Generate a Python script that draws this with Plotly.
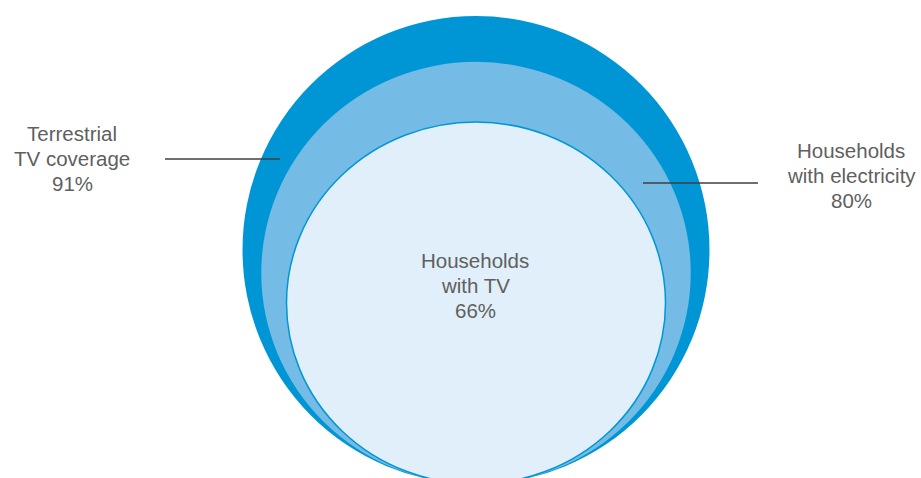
import plotly.graph_objects as go

# nested coverage circles
labels = ["Terrestrial<br>TV coverage", "Households<br>with electricity", "Households<br>with TV"]
values = [91, 80, 66]  # percent

fills = ["#0096D6", "#74BBE6", "#E1EFFA"]
outlines = [None, None, "#0096D6"]

W, H = 921, 478
cx, bottom = 476, 484
R = 234  # outer radius in px

fig = go.Figure()

# circles all sit on the same baseline, sized from the values
vmax = max(values)
for i, v in enumerate(values):
    rx = (R - 0.5) * (v / vmax) ** 0.65
    ry = R * (v / vmax) ** 0.8
    line = dict(width=0) if outlines[i] is None else dict(color=outlines[i], width=1.5)
    fig.add_shape(
        type="circle", xref="x", yref="y",
        x0=cx - rx, x1=cx + rx, y0=bottom - 2 * ry, y1=bottom,
        fillcolor=fills[i], line=line, layer="below",
    )

# leader lines
fig.add_shape(type="line", x0=165, x1=280, y0=159, y1=159,
              line=dict(color="#3f3f3f", width=1.5))
fig.add_shape(type="line", x0=643, x1=758, y0=183, y1=183,
              line=dict(color="#3f3f3f", width=1.5))

# label text, one line at a time for tight spacing
label_pos = [(72, 133), (851, 150), (475, 260)]
for (x, y), lab, v in zip(label_pos, labels, values):
    lines = lab.split("<br>") + [f"{v}%"]
    for j, t in enumerate(lines):
        fig.add_annotation(
            x=x, y=y + 25 * j, text=t, showarrow=False,
            xanchor="center", yanchor="middle",
            font=dict(family="Liberation Sans, Arial", size=20.5, color="#5f5f5f"),
        )

# invisible trace so axes exist
fig.add_trace(go.Scatter(x=[0, W], y=[0, H], mode="markers",
                         marker=dict(opacity=0), hoverinfo="skip", showlegend=False))

fig.update_xaxes(range=[0, W], visible=False)
fig.update_yaxes(range=[H, 0], visible=False)
fig.update_layout(
    width=W, height=H,
    margin=dict(l=0, r=0, t=0, b=0),
    plot_bgcolor="white", paper_bgcolor="white",
    showlegend=False,
)

# drop the default page margin so the figure sits at the window corner
fig.write_html("out.html", config={"displayModeBar": False},
               post_script="document.body.style.margin='0';document.body.style.overflow='hidden';")
